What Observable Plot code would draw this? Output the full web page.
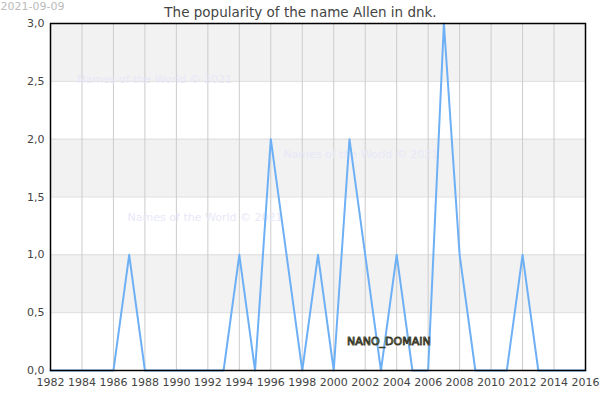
<!DOCTYPE html>
<html><head><meta charset="utf-8">
<script src="https://cdn.jsdelivr.net/npm/d3@7"></script>
<script src="https://cdn.jsdelivr.net/npm/@observablehq/plot@0.6"></script>
<style>body{margin:0;background:#fff;font-family:"DejaVu Sans",sans-serif;}</style>
</head><body><div id="chart"></div>
<script>
const years = d3.range(1982, 2017);
const counts = [0,0,0,0,0,1,0,0,0,0,0,0,1,0,2,1,0,1,0,2,1,0,1,0,0,3,1,0,0,0,1,0,0,0,0];
const xTicks = d3.range(1982, 2017, 2);
const yTicks = [0,0.5,1,1.5,2,2.5,3];
const bandLow = [0.5,1.5,2.5];
const bandHigh = [1,2,3];
const wmText = ["Names of the World © 2021","Names of the World © 2021","Names of the World © 2021"];
const wmX = [1983.7,1996.8,1986.9];
const wmY = [2.52,1.87,1.32];
const title = "The popularity of the name Allen in dnk.";
const dateLabel = "2021-09-09";

const data = years.map((y,i)=>({year:y, v:counts[i]}));
const bands = bandLow.map((b,i)=>({y1:b,y2:bandHigh[i]}));
const wm = wmText.map((t,i)=>({t, x:wmX[i], y:wmY[i]}));
const fmt = d => d.toFixed(1).replace(".", ",");

const chart = Plot.plot({
  width:600, height:400,
  marginLeft:50, marginRight:15, marginTop:23, marginBottom:30,
  style:{fontFamily:"DejaVu Sans", fontSize:"11px", color:"#444", background:"#fff"},
  x:{domain:[1982,2016], ticks:xTicks, tickFormat:d=>String(d), tickSize:0, tickPadding:8, label:null},
  y:{domain:[0,3], ticks:yTicks, tickFormat:fmt, tickSize:0, tickPadding:6, label:null},
  marks:[
    Plot.rect(bands,{x1:1982,x2:2016,y1:"y1",y2:"y2",fill:"#f2f2f2"}),
    Plot.ruleY(yTicks,{stroke:"#dddddd",strokeWidth:1}),
    Plot.ruleX(xTicks,{stroke:"#cccccc",strokeWidth:1}),
    Plot.text(wm,{x:"x",y:"y",text:"t",textAnchor:"start",fill:"#e8e8f8",fontSize:11}),
    Plot.line(data,{x:"year",y:"v",stroke:"#6eb0f5",strokeWidth:2}),
    Plot.text(["NANO_DOMAIN"],{x:2003.5,y:0.25,text:d=>d,fill:"#f0f0d8",stroke:"#3a3a2a",strokeWidth:0.9,paintOrder:"fill",fontSize:11}),
    Plot.frame({stroke:"#000",strokeWidth:1.5}),
    Plot.text([title],{frameAnchor:"top",dx:-17.5,dy:-16,text:d=>d,fontSize:13.5,fill:"#444"}),
    Plot.text([dateLabel],{frameAnchor:"top-left",dx:-50,dy:-21,textAnchor:"start",text:d=>d,fontSize:11,fill:"#bbb"})
  ]
});
document.getElementById("chart").appendChild(chart);
</script></body></html>
